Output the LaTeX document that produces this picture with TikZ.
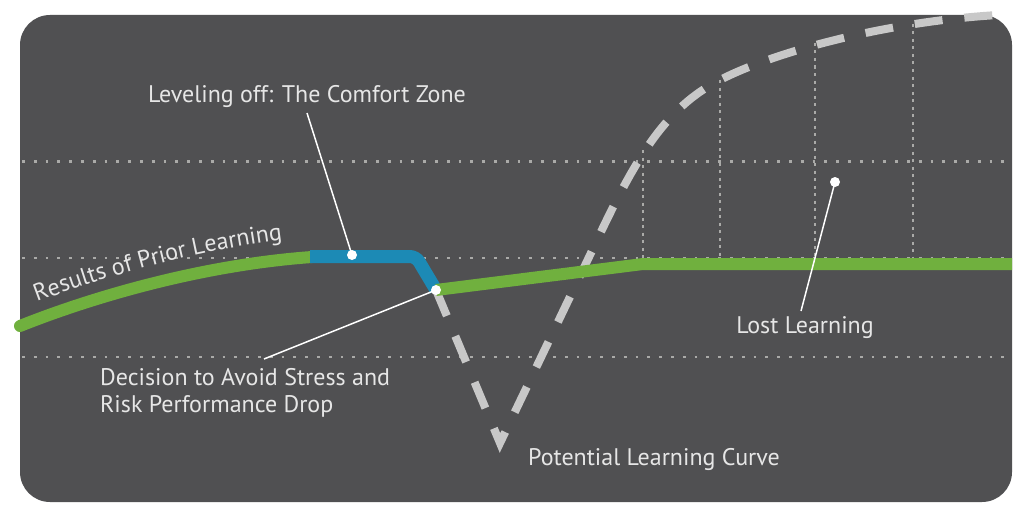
\documentclass[tikz,border=0pt]{standalone}
\usepackage{fontspec}
\setmainfont{PT Sans}
\usetikzlibrary{decorations.text}
\definecolor{bgc}{RGB}{80,80,82}
\definecolor{grn}{RGB}{112,176,62}
\definecolor{blu}{RGB}{28,138,181}
\definecolor{dsh}{RGB}{200,200,200}
\definecolor{dotc}{RGB}{170,170,168}
\definecolor{txt}{RGB}{230,230,230}
\newcommand\lblfont{\fontsize{24}{27}\selectfont}
\tikzset{
  dotline/.style={dotc, line width=2.8pt, dash pattern=on 2.8pt off 9pt},
  vdotline/.style={dotc, line width=2.4pt, dash pattern=on 3pt off 4.5pt},
  potential/.style={dsh, line width=8pt, dash pattern=on 28pt off 22pt},
  greenline/.style={grn, line width=12pt},
  blueline/.style={blu, line width=13pt, rounded corners=6pt},
  leader/.style={white, line width=1.5pt},
  lbl/.style={text=txt, font=\lblfont, inner sep=0pt},
}
\begin{document}
\begin{tikzpicture}[x=1pt,y=-1pt]
\useasboundingbox (0,0) rectangle (1030,519);
\fill[white] (0,0) rectangle (1030,519);
\fill[bgc, rounded corners=30pt] (20,15) rectangle (1012,502);
% horizontal dotted lines
\draw[dotline] (22,161.5) -- (1012,161.5);
\draw[dotline] (22,258) -- (1012,258);
\draw[dotline] (22,357) -- (1012,357);
% vertical dotted lines
\draw[vdotline] (643,150) -- (643,258);
\draw[vdotline] (720,80) -- (720,258);
\draw[vdotline] (815,43) -- (815,258);
\draw[vdotline] (913,24) -- (913,258);
% potential learning curve
\coordinate (d2) at (436,290);
\coordinate (vb) at (500,443);
\draw[potential] (d2) -- (vb) -- (590,255)
  .. controls (630,170) and (660,110) .. (720,80)
  .. controls (770,54) and (880,22) .. (998,15);
% results of prior learning
\draw[greenline, line cap=round] (20,326) .. controls (90,298) and (200,265) .. (312,257);
\draw[blueline] (310,256.5) -- (416,256.5) -- (d2);
\draw[greenline] (d2) -- (643,264) -- (1012,264);
\path[decorate, decoration={text along path, text color=txt,
  text={|\lblfont|Results of Prior Learning}}]
  (37,302) .. controls (95,280) and (190,250) .. (300,238);
% leaders and dots
\coordinate (d1) at (352,255);
\coordinate (d3) at (835,182);
\node[lbl, anchor=base] (t1) at (307,102) {Leveling off: The Comfort Zone};
\coordinate (c1) at (307,113);
\node[lbl, anchor=base west, align=left] (t2) at (100,412)
  {Decision to Avoid Stress and\\Risk Performance Drop};
\coordinate (c2) at (264,359);
\node[lbl, anchor=base] (t3) at (805,333) {Lost Learning};
\coordinate (c3) at (801,311);
\node[lbl, anchor=base west] (t4) at (528,465) {Potential Learning Curve};
\draw[leader] (d1) -- (c1);
\draw[leader] (d2) -- (c2);
\draw[leader] (d3) -- (c3);
\fill[white] (d1) circle (5pt);
\fill[white] (d2) circle (5pt);
\fill[white] (d3) circle (5pt);
\end{tikzpicture}
\end{document}
